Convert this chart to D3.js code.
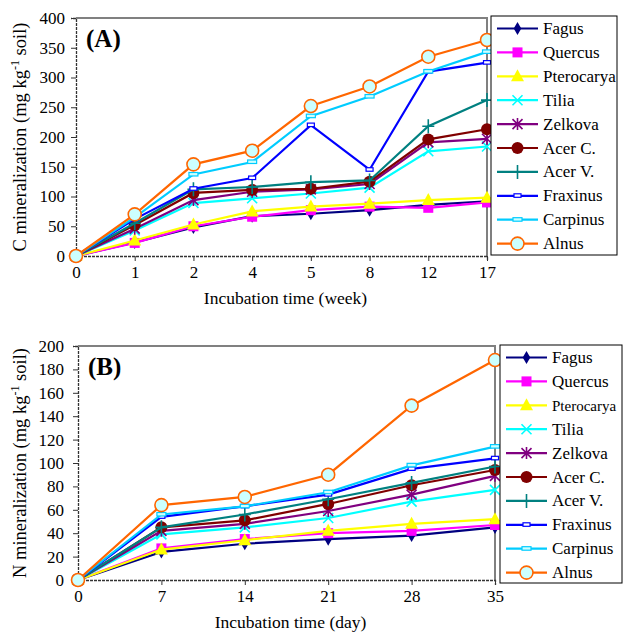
<!DOCTYPE html>
<html>
<head>
<meta charset="utf-8">
<script src="https://cdn.jsdelivr.net/npm/d3@7"></script>
<style>
  body { margin: 0; background: #fff; }
  svg text { font-family: "Liberation Serif", "DejaVu Serif", serif; fill: #000; }
</style>
</head>
<body>
<svg id="chart" width="623" height="638" font-family="Liberation Serif"></svg>
<script>
// categories
var weeks = ["0", "1", "2", "4", "5", "8", "12", "17"];
var days = ["0", "7", "14", "21", "28", "35"];
var species = ["Fagus", "Quercus", "Pterocarya", "Tilia", "Zelkova", "Acer C.", "Acer V.", "Fraxinus", "Carpinus", "Alnus"];

// (A) C mineralization, mg/kg soil, by week
var cFagus      = [0, 23, 48, 67, 71, 77, 86, 92];
var cQuercus    = [0, 22, 50, 66, 77, 83, 81, 90];
var cPterocarya = [0, 26, 53, 75, 83, 88, 94, 98];
var cTilia      = [0, 43, 89, 97, 105, 115, 176, 184];
var cZelkova    = [0, 46, 94, 108, 112, 121, 191, 197];
var cAcerC      = [0, 52, 106, 111, 113, 125, 196, 213];
var cAcerV      = [0, 55, 112, 116, 124, 127, 218, 262];
var cFraxinus   = [0, 62, 113, 131, 220, 145, 310, 325];
var cCarpinus   = [0, 65, 137, 158, 235, 268, 310, 343];
var cAlnus      = [0, 70, 154, 177, 252, 285, 335, 363];

// (B) N mineralization, mg/kg soil, by day
var nFagus      = [0, 24, 31, 35, 38, 45];
var nQuercus    = [0, 27, 35, 40, 42, 47];
var nPterocarya = [0, 26, 34, 42, 48, 52];
var nTilia      = [0, 39, 45, 53, 67, 77];
var nZelkova    = [0, 42, 48, 59, 73, 89];
var nAcerC      = [0, 45, 51, 65, 81, 94];
var nAcerV      = [0, 45, 56, 69, 83, 97];
var nFraxinus   = [0, 54, 63, 73, 95, 104];
var nCarpinus   = [0, 56, 63, 75, 98, 114];
var nAlnus      = [0, 64, 71, 90, 149, 188];

var cTicks = [0, 50, 100, 150, 200, 250, 300, 350, 400];
var nTicks = [0, 20, 40, 60, 80, 100, 120, 140, 160, 180, 200];

var cSeries = [cFagus, cQuercus, cPterocarya, cTilia, cZelkova, cAcerC, cAcerV, cFraxinus, cCarpinus, cAlnus];
var nSeries = [nFagus, nQuercus, nPterocarya, nTilia, nZelkova, nAcerC, nAcerV, nFraxinus, nCarpinus, nAlnus];

// look of each species: line colour and marker
var styles = [
  {color: "#000080", marker: "diamond"},
  {color: "#FF00FF", marker: "square"},
  {color: "#FFFF00", marker: "triangle"},
  {color: "#00FFFF", marker: "x"},
  {color: "#800080", marker: "star"},
  {color: "#800000", marker: "circle"},
  {color: "#008080", marker: "plus"},
  {color: "#0000FF", marker: "dash"},
  {color: "#00CCFF", marker: "bar"},
  {color: "#FF6600", marker: "ring"}
];

var FONT = "Liberation Serif";
var svg = d3.select("#chart");

function drawMarker(g, type, color, x, y) {
  var m = g.append("g").attr("transform", "translate(" + x + "," + y + ")");
  if (type == "diamond") {
    m.append("path").attr("d", d3.symbol(d3.symbolDiamond, 50)()).attr("fill", color);
  } else if (type == "square") {
    m.append("rect").attr("x", -5).attr("y", -5).attr("width", 10).attr("height", 10).attr("fill", color);
  } else if (type == "triangle") {
    m.append("path").attr("d", "M0,-7L6.5,5L-6.5,5Z").attr("fill", color);
  } else if (type == "x") {
    m.append("path").attr("d", "M-5,-5L5,5M-5,5L5,-5").attr("stroke", color).attr("stroke-width", 1.6);
  } else if (type == "star") {
    m.append("path").attr("d", "M-5,-5L5,5M-5,5L5,-5M0,-6L0,6").attr("stroke", color).attr("stroke-width", 1.6);
  } else if (type == "circle") {
    m.append("circle").attr("r", 6).attr("fill", color);
  } else if (type == "plus") {
    m.append("path").attr("d", "M-6,0L6,0M0,-7L0,7").attr("stroke", color).attr("stroke-width", 1.6);
  } else if (type == "dash") {
    m.append("rect").attr("x", -3.5).attr("y", -2).attr("width", 7).attr("height", 3.5)
      .attr("fill", "#fff").attr("stroke", color).attr("stroke-width", 1.2);
  } else if (type == "bar") {
    m.append("rect").attr("x", -4.5).attr("y", -2).attr("width", 9).attr("height", 3.5)
      .attr("fill", "#CCFFFF").attr("stroke", color).attr("stroke-width", 1.2);
  } else if (type == "ring") {
    m.append("circle").attr("r", 6.5).attr("fill", "#CCFFFF").attr("stroke", color).attr("stroke-width", 1.6);
  }
}

function panel(opt) {
  var x = d3.scalePoint().domain(opt.cats).range([opt.left, opt.right]);
  var y = d3.scaleLinear().domain([0, opt.ymax]).range([opt.bottom, opt.top]);
  var g = svg.append("g");

  // gray top / right frame
  g.append("path")
    .attr("d", "M" + opt.left + "," + opt.top + "H" + opt.right + "V" + opt.bottom)
    .attr("fill", "none").attr("stroke", "#808080").attr("stroke-width", 2);

  var yAxis = g.append("g").attr("transform", "translate(" + opt.left + ",0)")
    .call(d3.axisLeft(y).tickValues(opt.ticks).tickSize(5).tickPadding(opt.ypad));
  var xAxis = g.append("g").attr("transform", "translate(0," + opt.bottom + ")")
    .call(d3.axisBottom(x).tickSize(5).tickPadding(5));
  [yAxis, xAxis].forEach(function (a) {
    a.attr("font-family", FONT);
    a.select(".domain").attr("stroke", "#333").attr("stroke-width", 1.3).attr("stroke-dasharray", "3,1");
    a.selectAll(".tick line").attr("stroke", "#333");
    a.selectAll("text").style("font-family", FONT).style("font-size", "17px").attr("fill", "#000");
  });

  var line = d3.line().x(function (d, i) { return x(opt.cats[i]); }).y(function (d) { return y(d); });
  opt.series.forEach(function (s, k) {
    var st = styles[k];
    g.append("path").attr("d", line(s)).attr("fill", "none")
      .attr("stroke", st.color).attr("stroke-width", 2.2);
    s.forEach(function (v, i) {
      drawMarker(g, st.marker, st.color, x(opt.cats[i]), y(v));
    });
  });

  g.append("text").attr("x", opt.left + 10).attr("y", opt.top + 29)
    .style("font-size", "25px").style("font-weight", "bold").text(opt.label);

  g.append("text").attr("x", (opt.left + opt.right) / 2 + 4).attr("y", opt.bottom + 48)
    .attr("text-anchor", "middle").style("font-size", "17.5px").text(opt.xtitle);

  var yt = g.append("text")
    .attr("transform", "translate(" + opt.ytx + "," + ((opt.top + opt.bottom) / 2) + ") rotate(-90)")
    .attr("text-anchor", "middle").style("font-size", "18.5px");
  yt.append("tspan").text(opt.ytitle + " (mg kg");
  yt.append("tspan").attr("dy", -7).style("font-size", "12px").text("-1");
  yt.append("tspan").attr("dy", 7).text(" soil)");

  // legend
  var lg = g.append("g");
  lg.append("rect").attr("x", opt.lx).attr("y", opt.ly).attr("width", opt.lw).attr("height", opt.lh)
    .attr("fill", "#fff").attr("stroke", "#000").attr("stroke-width", 1);
  species.forEach(function (name, k) {
    var yy = opt.ly + 12.5 + k * 23.9;
    var st = styles[k];
    lg.append("line").attr("x1", opt.lx + 6).attr("x2", opt.lx + 47).attr("y1", yy).attr("y2", yy)
      .attr("stroke", st.color).attr("stroke-width", 2.2);
    drawMarker(lg, st.marker, st.color, opt.lx + 26.5, yy);
    var t = lg.append("text").attr("x", opt.lx + 52).attr("y", yy + 5.5).style("font-size", "17px").text(name);
    // shrink text that would run off the page
    var room = 616 - (opt.lx + 52);
    var w = t.node().getComputedTextLength();
    if (w > room) t.style("font-size", (17 * room / w).toFixed(1) + "px");
  });
}

panel({
  cats: weeks, series: cSeries, ymax: 400, ticks: cTicks,
  left: 76, right: 487, top: 18, bottom: 256, ypad: 6,
  label: "(A)", xtitle: "Incubation time (week)", ytitle: "C mineralization", ytx: 26,
  lx: 491, ly: 16, lw: 126, lh: 239
});

panel({
  cats: days, series: nSeries, ymax: 200, ticks: nTicks,
  left: 78, right: 495, top: 346, bottom: 580, ypad: 9,
  label: "(B)", xtitle: "Incubation time (day)", ytitle: "N mineralization", ytx: 26,
  lx: 500, ly: 345, lw: 122, lh: 238
});
</script>
</body>
</html>
